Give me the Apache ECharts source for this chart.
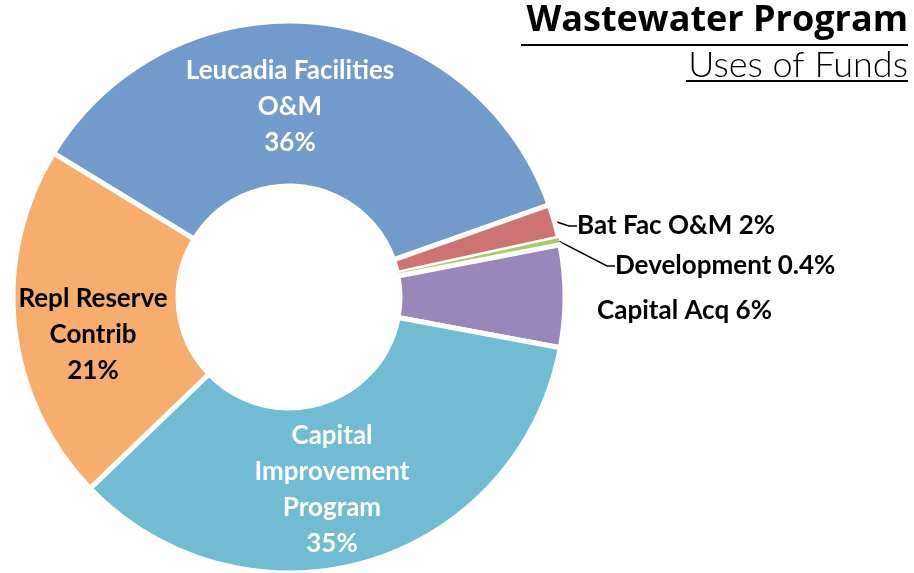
<!DOCTYPE html>
<html><head><meta charset="utf-8">
<script src="https://cdn.jsdelivr.net/npm/echarts@6/dist/echarts.min.js"></script>
<style>html,body{margin:0;padding:0;background:#fff}#c{width:914px;height:573px}</style>
</head><body><div id="c"></div>
<script>
const categories = ['Leucadia Facilities O&M','Bat Fac O&M','Development','Capital Acq','Capital Improvement Program','Repl Reserve Contrib'];
const values = [36, 2, 0.4, 6, 35, 21];
const labelTexts = ['Leucadia Facilities\nO&M\n36%','Bat Fac O&M 2%','Development 0.4%','Capital Acq 6%','Capital\nImprovement\nProgram\n35%','Repl Reserve\nContrib\n21%'];
const colors = ['#729ACA','#CD7371','#A9C96B','#9B86B9','#71BCD2','#F7AD6E'];
const labelColors = ['#fff','#000','#000','#000','#fff','#000'];
const titleText = 'Wastewater Program';
const subtitleText = 'Uses of Funds';

const chart = echarts.init(document.getElementById('c'));
const FONT = 'Lato, "Open Sans", sans-serif';
const data = categories.map((n,i)=>({
  name:n, value:values[i],
  itemStyle:{color:colors[i], borderWidth: i===2?0:5},
  label:{
    show:true,
    formatter: labelTexts[i],
    position: (i===0||i===4||i===5)?'inside':'outside',
    color: labelColors[i],
    fontFamily: FONT, fontWeight:'bold', fontSize:26, lineHeight:36,
    align: (i===0||i===4||i===5)?'center':'left'
  },
  labelLine:{show: i===1||i===2, length:30, length2:8, lineStyle:{color:'#000', width:1.5}}
}));
const insidePos = {0:[290,107],4:[332,490],5:[93,335]};
const outsidePos = {1:[577,226],2:[615,266],3:[597,311]};
chart.setOption({
  animation:false,
  series:[{
    type:'pie',
    center:[289,297],
    radius:[111,276],
    startAngle:148.6,
    clockwise:true,
    avoidLabelOverlap:false,
    itemStyle:{borderColor:'#fff'},
    data:data,
    labelLayout:function(p){
      const i=p.dataIndex;
      if(insidePos[i]) return {x:insidePos[i][0], y:insidePos[i][1], align:'center', verticalAlign:'middle'};
      if(outsidePos[i]) return {x:outsidePos[i][0], y:outsidePos[i][1], align:'left', verticalAlign:'middle'};
    }
  }],
  graphic:[
    {type:'text', right:6, top:3, style:{text:titleText, font:'bold 36px "Open Sans", sans-serif', fill:'#000'}},
    {type:'line', shape:{x1:521,y1:45,x2:908,y2:45}, style:{stroke:'#000', lineWidth:2}},
    {type:'text', right:6, top:47, style:{text:subtitleText, font:'300 36px Lato, sans-serif', fill:'#000'}},
    {type:'line', shape:{x1:686,y1:81,x2:908,y2:81}, style:{stroke:'#000', lineWidth:2}}
  ]
});
</script></body></html>
